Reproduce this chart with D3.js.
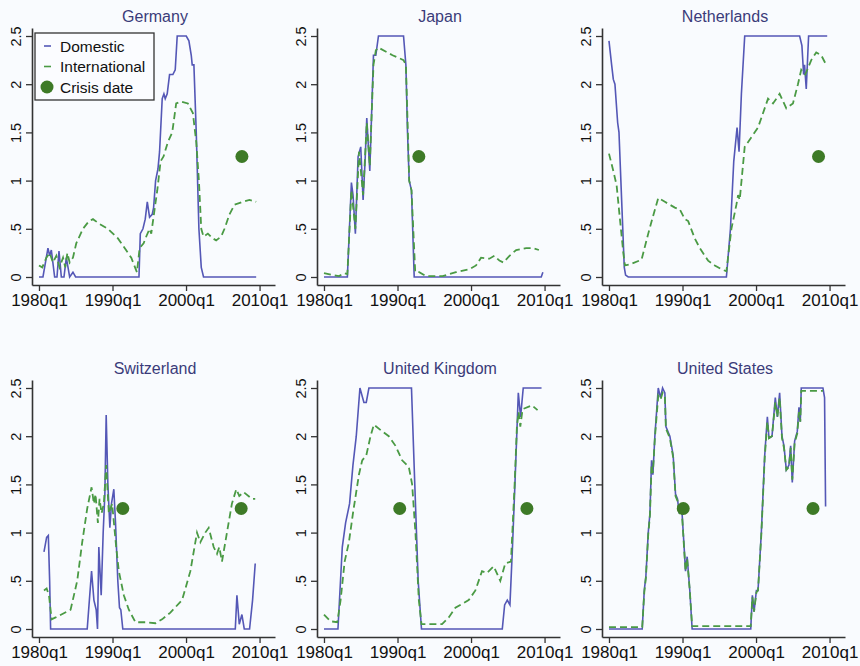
<!DOCTYPE html>
<html>
<head>
<meta charset="utf-8">
<script src="https://cdn.jsdelivr.net/npm/d3@7"></script>
<style>
  body{margin:0;background:#f9fbfe;}
  svg{display:block;font-family:"Liberation Sans",Arial,sans-serif;}
</style>
</head>
<body>
<div class="chart"></div>
<script>
// [year, value] points
var germanyDom=[[1980.0,0],[1980.54,0],[1981.22,0.3],[1981.45,0.22],[1981.68,0.28],[1982.13,0],[1982.45,0],[1982.72,0.27],[1983.04,0],[1983.4,0],[1983.72,0.2],[1984.17,0],[1984.62,0.05],[1984.98,0],[1993.6,0],[1993.78,0.45],[1994.14,0.5],[1994.45,0.6],[1994.73,0.78],[1995.04,0.62],[1995.4,0.65],[1995.59,0.72],[1995.86,1.0],[1996.18,1.12],[1996.4,1.3],[1996.76,1.85],[1996.99,1.9],[1997.17,1.85],[1997.44,1.9],[1997.76,2.1],[1998.21,2.1],[1998.53,2.15],[1998.8,2.5],[2000.03,2.5],[2000.39,2.45],[2000.71,2.3],[2000.84,2.2],[2001.07,2.2],[2001.39,1.5],[2001.75,0.5],[2002.07,0.1],[2002.38,0],[2009.54,0]];
var germanyIntl=[[1980.0,0.12],[1980.45,0.1],[1981.0,0.2],[1981.45,0.25],[1981.9,0.15],[1982.36,0.22],[1982.8,0.1],[1983.27,0.2],[1983.58,0.1],[1983.86,0.25],[1984.17,0.15],[1984.62,0.2],[1985.07,0.35],[1985.98,0.5],[1986.8,0.58],[1987.34,0.6],[1988.25,0.55],[1989.38,0.5],[1990.06,0.45],[1990.74,0.4],[1991.65,0.3],[1992.55,0.2],[1993.32,0.05],[1993.69,0.3],[1994.23,0.35],[1994.59,0.42],[1995.04,0.5],[1995.27,0.45],[1995.72,0.7],[1996.09,0.9],[1996.54,1.2],[1996.94,1.25],[1997.53,1.4],[1998.12,1.5],[1998.66,1.8],[1999.34,1.82],[2000.25,1.8],[2000.93,1.7],[2001.39,1.4],[2001.75,1.0],[2002.07,0.5],[2002.38,0.42],[2002.97,0.45],[2003.65,0.4],[2004.1,0.38],[2004.78,0.42],[2005.23,0.5],[2005.91,0.65],[2006.59,0.75],[2007.72,0.78],[2008.63,0.8],[2009.54,0.78]];

var japanDom=[[1980.0,0],[1983.18,0],[1983.73,0.98],[1983.95,0.85],[1984.27,0.45],[1984.64,1.25],[1985.0,1.35],[1985.32,0.8],[1985.59,1.2],[1985.82,1.65],[1986.23,1.1],[1986.73,2.3],[1987.05,2.3],[1987.41,2.5],[1990.82,2.5],[1991.14,2.2],[1991.36,1.5],[1991.59,1.0],[1991.9,0.9],[1992.27,0],[2009.55,0],[2009.77,0.05]];
var japanIntl=[[1980.0,0.04],[1981.14,0.02],[1982.05,0.01],[1982.73,0.04],[1983.18,0.03],[1983.73,0.9],[1984.27,0.5],[1984.77,1.3],[1985.32,0.85],[1985.82,1.6],[1986.23,1.15],[1986.73,2.2],[1987.05,2.35],[1987.41,2.38],[1989.32,2.3],[1990.82,2.25],[1991.14,2.2],[1991.41,1.5],[1991.59,1.0],[1991.9,0.9],[1992.41,0.05],[1992.95,0.05],[1993.86,0.01],[1996.14,0.01],[1997.95,0.05],[1999.77,0.08],[2000.68,0.12],[2001.36,0.2],[2002.5,0.19],[2003.18,0.22],[2003.86,0.17],[2004.41,0.15],[2005.23,0.22],[2006.14,0.28],[2007.5,0.3],[2008.41,0.3],[2009.23,0.28]];

var netherlandsDom=[[1980.0,2.45],[1980.36,2.2],[1980.59,2.05],[1980.81,2.0],[1981.18,1.6],[1981.36,1.5],[1981.72,0.8],[1982.08,0.1],[1982.26,0.02],[1982.62,0],[1995.97,0],[1996.52,0.5],[1996.97,1.2],[1997.42,1.55],[1997.69,1.3],[1998.01,1.9],[1998.46,2.5],[2005.93,2.5],[2006.24,2.4],[2006.47,2.1],[2006.6,2.2],[2006.83,1.95],[2007.15,2.5],[2009.68,2.5]];
var netherlandsIntl=[[1980.0,1.28],[1980.59,1.1],[1981.04,0.95],[1981.49,0.6],[1981.95,0.25],[1982.17,0.12],[1982.85,0.13],[1984.43,0.18],[1985.34,0.45],[1985.88,0.6],[1986.7,0.82],[1987.6,0.78],[1988.96,0.72],[1989.64,0.7],[1990.32,0.6],[1990.77,0.58],[1991.67,0.4],[1992.35,0.3],[1993.48,0.17],[1994.39,0.12],[1995.29,0.08],[1995.97,0.06],[1996.65,0.5],[1997.33,0.75],[1997.56,0.85],[1997.78,0.8],[1998.46,1.35],[1999.37,1.45],[2000.27,1.55],[2001.63,1.85],[2002.31,1.8],[2003.21,1.9],[2004.12,1.75],[2005.02,1.8],[2005.7,2.0],[2006.15,2.15],[2006.7,2.1],[2007.51,2.25],[2008.19,2.33],[2008.87,2.3],[2009.55,2.2]];

var switzerlandDom=[[1980.68,0.8],[1981.04,0.95],[1981.27,0.97],[1981.45,0.5],[1981.58,0],[1986.56,0],[1987.15,0.6],[1987.47,0.3],[1987.78,0.2],[1987.96,0],[1988.14,0.85],[1988.46,0.35],[1988.73,1.0],[1988.96,1.4],[1989.14,2.22],[1989.37,1.5],[1989.64,1.05],[1989.86,1.3],[1990.18,1.45],[1990.41,1.1],[1990.72,0.5],[1990.95,0.22],[1991.13,0.2],[1991.4,0],[2006.7,0],[2006.92,0.35],[2007.24,0.05],[2007.6,0.15],[2007.92,0],[2008.64,0],[2009.05,0.3],[2009.41,0.68]];
var switzerlandIntl=[[1980.68,0.4],[1981.04,0.42],[1981.36,0.35],[1981.72,0.1],[1982.26,0.12],[1984.3,0.2],[1985.2,0.5],[1985.88,0.9],[1986.56,1.25],[1987.15,1.47],[1987.47,1.3],[1987.69,1.4],[1988.01,1.1],[1988.24,1.35],[1988.51,1.2],[1988.82,1.3],[1989.14,1.7],[1989.5,1.2],[1989.95,1.3],[1990.5,0.85],[1990.86,0.6],[1991.54,0.35],[1992.22,0.2],[1993.12,0.07],[1994.48,0.07],[1995.84,0.06],[1996.74,0.1],[1997.87,0.17],[1999.46,0.3],[2000.59,0.6],[2001.49,1.0],[2001.95,0.9],[2002.62,1.0],[2003.08,1.05],[2003.76,0.85],[2004.21,0.78],[2004.52,0.85],[2004.89,0.7],[2005.79,1.1],[2006.24,1.3],[2006.83,1.45],[2007.24,1.38],[2007.83,1.42],[2008.96,1.35],[2009.41,1.35]];

var ukDom=[[1980.0,0],[1981.9,0],[1982.49,0.85],[1982.94,1.1],[1983.48,1.3],[1983.94,1.7],[1984.39,2.0],[1984.89,2.5],[1985.43,2.35],[1985.75,2.35],[1986.11,2.5],[1991.9,2.5],[1992.35,1.5],[1992.81,0.5],[1993.26,0],[2004.25,0],[2004.57,0.25],[2004.93,0.3],[2005.29,0.25],[2005.61,0.8],[2005.97,1.5],[2006.43,2.45],[2006.74,2.2],[2007.1,2.5],[2009.59,2.5]];
var ukIntl=[[1980.0,0.15],[1980.9,0.08],[1981.81,0.07],[1982.26,0.3],[1982.81,0.7],[1983.39,0.9],[1983.94,1.2],[1984.75,1.6],[1985.2,1.75],[1985.75,1.8],[1986.33,2.0],[1986.79,2.12],[1987.92,2.05],[1988.82,2.0],[1989.73,1.9],[1990.63,1.75],[1991.54,1.68],[1991.99,1.5],[1992.44,1.0],[1992.9,0.3],[1993.26,0.05],[1994.25,0.05],[1996.06,0.05],[1996.97,0.12],[1997.87,0.22],[1999.68,0.3],[2000.59,0.4],[2001.49,0.6],[2002.17,0.58],[2003.08,0.65],[2003.98,0.5],[2004.66,0.68],[2005.43,0.7],[2005.93,1.5],[2006.24,2.1],[2006.47,2.25],[2006.7,2.1],[2007.01,2.28],[2008.28,2.32],[2009.05,2.27]];

var usDom=[[1980.0,0],[1984.52,0],[1984.8,0.4],[1985.02,0.55],[1985.34,1.0],[1985.57,1.2],[1985.79,1.75],[1985.97,1.6],[1986.24,2.0],[1986.7,2.5],[1987.01,2.4],[1987.29,2.5],[1987.6,2.45],[1987.74,2.1],[1988.28,2.0],[1988.73,1.8],[1989.05,1.4],[1989.32,1.35],[1989.55,1.2],[1989.86,1.3],[1990.18,0.9],[1990.41,0.6],[1990.63,0.75],[1990.99,0.4],[1991.31,0],[1999.28,0],[1999.5,0.35],[1999.73,0.18],[2000.05,0.4],[2000.27,0.4],[2000.72,1.0],[2001.18,1.8],[2001.54,2.2],[2001.76,1.98],[2002.17,2.0],[2002.62,2.4],[2002.9,2.2],[2003.21,2.45],[2003.53,2.0],[2003.8,1.9],[2004.12,1.65],[2004.48,1.7],[2004.71,1.9],[2004.93,1.52],[2005.25,1.95],[2005.61,2.05],[2005.84,2.3],[2006.02,2.15],[2006.15,2.5],[2009.1,2.5],[2009.32,2.4],[2009.46,1.27]];
var usIntl=[[1980.0,0.02],[1984.52,0.02],[1984.8,0.38],[1985.02,0.53],[1985.34,0.98],[1985.57,1.18],[1985.79,1.7],[1985.97,1.62],[1986.24,1.98],[1986.7,2.42],[1987.01,2.38],[1987.29,2.45],[1987.6,2.42],[1987.74,2.08],[1988.28,1.98],[1988.73,1.78],[1989.05,1.38],[1989.32,1.33],[1989.55,1.18],[1989.86,1.28],[1990.18,0.88],[1990.41,0.6],[1990.63,0.73],[1990.99,0.4],[1991.31,0.03],[1999.28,0.03],[1999.5,0.33],[1999.73,0.18],[2000.05,0.38],[2000.27,0.4],[2000.72,0.98],[2001.18,1.78],[2001.54,2.15],[2001.76,1.98],[2002.17,2.0],[2002.62,2.35],[2002.9,2.2],[2003.21,2.4],[2003.53,1.98],[2003.8,1.88],[2004.12,1.65],[2004.48,1.68],[2004.71,1.88],[2004.93,1.55],[2005.25,1.93],[2005.61,2.03],[2005.84,2.25],[2006.02,2.15],[2006.15,2.47],[2009.1,2.47]];

var countries=["Germany","Japan","Netherlands","Switzerland","United Kingdom","United States"];
var domestic=[germanyDom,japanDom,netherlandsDom,switzerlandDom,ukDom,usDom];
var international=[germanyIntl,japanIntl,netherlandsIntl,switzerlandIntl,ukIntl,usIntl];
var crisisDates=[[2007.6],[1992.9],[2008.5],[1991.4,2007.5],[1990.3,2007.6],[1990.1,2007.75]];
var crisisLevel=1.25;

var xTicks=[1980,1990,2000,2010];
var xTickLabels=["1980q1","1990q1","2000q1","2010q1"];
var yTicks=[0,0.5,1,1.5,2,2.5];
var yTickLabels=["0",".5","1","1.5","2","2.5"];

var domColor="#5457b6", intlColor="#4a9a44", dotColor="#3e7a27", titleColor="#3b3b7a";

var canvas=d3.select(".chart").append("svg")
  .attr("width",860)
  .attr("height",666);

var panelW=285, panelH=352;
var plotLeft=32, plotRight=275, plotTop=28, plotBottom=285;

var xScale=d3.scaleLinear().domain([1979.05,2012.1]).range([plotLeft,plotRight]);
var yScale=d3.scaleLinear().domain([-0.083,2.583]).range([plotBottom,plotTop]);

var line=d3.line()
  .x(function(d){return xScale(d[0]);})
  .y(function(d){return yScale(d[1]);});

countries.forEach(function(name,i){
  var g=canvas.append("g")
    .attr("transform","translate("+((i%3)*panelW)+","+(Math.floor(i/3)*panelH)+")");

  g.append("text")
    .text(name)
    .attr("x",155)
    .attr("y",22)
    .attr("text-anchor","middle")
    .attr("font-size",16)
    .attr("fill",titleColor);

  // axes
  var xAxis=g.append("g")
    .attr("transform","translate(0,"+plotBottom+")")
    .call(d3.axisBottom(xScale).tickValues(xTicks).tickSize(6).tickSizeOuter(0)
      .tickFormat(function(d,j){return xTickLabels[j];}));
  xAxis.select(".domain").attr("stroke","#333").attr("stroke-width",1.6);
  xAxis.selectAll(".tick line").attr("stroke","#333").attr("stroke-width",1.3);
  xAxis.selectAll("text")
    .attr("font-size",17).attr("font-family","Liberation Sans, Arial, sans-serif")
    .attr("fill","#111").attr("y",9).attr("dy","0.71em");

  var yAxis=g.append("g")
    .attr("transform","translate("+plotLeft+",0)")
    .call(d3.axisLeft(yScale).tickValues(yTicks).tickSize(6).tickSizeOuter(0)
      .tickFormat(function(d,j){return yTickLabels[j];}));
  yAxis.select(".domain").attr("stroke","#333").attr("stroke-width",1.6);
  yAxis.selectAll(".tick line").attr("stroke","#333").attr("stroke-width",1.3);
  yAxis.selectAll("text")
    .attr("font-size",14.5).attr("font-family","Liberation Sans, Arial, sans-serif")
    .attr("fill","#111")
    .attr("x",0).attr("dy",0)
    .attr("text-anchor","middle")
    .attr("transform","translate(-11,0) rotate(-90)");

  // series
  g.append("path")
    .datum(domestic[i])
    .attr("d",line)
    .attr("fill","none")
    .attr("stroke",domColor)
    .attr("stroke-width",1.6);

  g.append("path")
    .datum(international[i])
    .attr("d",line)
    .attr("fill","none")
    .attr("stroke",intlColor)
    .attr("stroke-width",1.8)
    .attr("stroke-dasharray","7,4");

  g.selectAll("circle.crisis")
    .data(crisisDates[i])
    .enter()
    .append("circle")
    .attr("class","crisis")
    .attr("cx",function(d){return xScale(d);})
    .attr("cy",yScale(crisisLevel))
    .attr("r",6.5)
    .attr("fill",dotColor);

  // legend only in first panel
  if(i==0){
    var lg=g.append("g");
    lg.append("rect")
      .attr("x",35).attr("y",33).attr("width",119).attr("height",67)
      .attr("fill","#fbfcff").attr("stroke","#333").attr("stroke-width",1.3);
    var items=["Domestic","International","Crisis date"];
    items.forEach(function(t,k){
      var yy=46+k*20.5;
      if(k==0){
        lg.append("line").attr("x1",44).attr("x2",51).attr("y1",yy).attr("y2",yy)
          .attr("stroke",domColor).attr("stroke-width",1.6);
      } else if(k==1){
        lg.append("line").attr("x1",44).attr("x2",51).attr("y1",yy).attr("y2",yy)
          .attr("stroke",intlColor).attr("stroke-width",1.6);
      } else {
        lg.append("circle").attr("cx",47).attr("cy",yy).attr("r",6.5).attr("fill",dotColor);
      }
      lg.append("text").text(t)
        .attr("x",60).attr("y",yy+5.5)
        .attr("font-size",15.5)
        .attr("fill","#111");
    });
  }
});
</script>
</body>
</html>
